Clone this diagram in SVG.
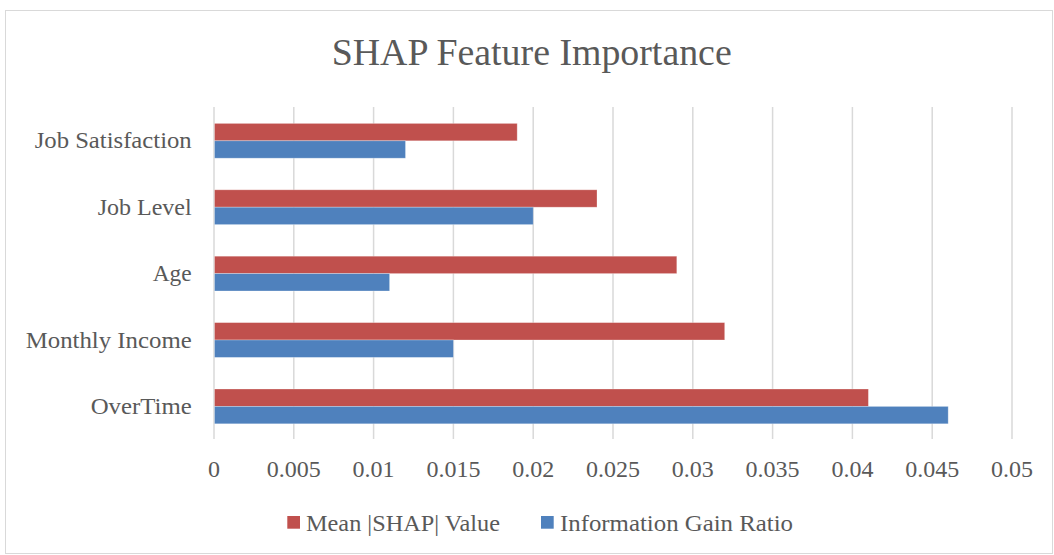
<svg xmlns="http://www.w3.org/2000/svg" width="1054" height="555" viewBox="0 0 1054 555">
<style>
  text { font-family: "Liberation Serif", "Times New Roman", serif; fill: #595959; }
  .title { font-size: 38px; }
  .cat { font-size: 23px; text-anchor: end; }
  .tick { font-size: 24px; text-anchor: middle; }
  .leg { font-size: 23.5px; }
  .grid line { stroke: #D9D9D9; stroke-width: 1.5; }
  .shap { fill: #C0504D; stroke: #ffffff; stroke-opacity: 0.35; stroke-width: 0.8; }
  .igr { fill: #4F81BD; stroke: #ffffff; stroke-opacity: 0.35; stroke-width: 0.8; }
</style>
<rect x="0" y="0" width="1054" height="555" fill="#ffffff"/>
<rect x="5.5" y="10.5" width="1047" height="543" fill="#ffffff" stroke="#D9D9D9" stroke-width="1"/>
<g id="title"><text class="title" x="531.7" y="65" text-anchor="middle" textLength="400" lengthAdjust="spacingAndGlyphs">SHAP Feature Importance</text></g>
<g id="gridlines" class="grid">
  <line x1="214" y1="107" x2="214" y2="439"/>
  <line x1="293.8" y1="107" x2="293.8" y2="439"/>
  <line x1="373.6" y1="107" x2="373.6" y2="439"/>
  <line x1="453.4" y1="107" x2="453.4" y2="439"/>
  <line x1="533.2" y1="107" x2="533.2" y2="439"/>
  <line x1="613" y1="107" x2="613" y2="439"/>
  <line x1="692.8" y1="107" x2="692.8" y2="439"/>
  <line x1="772.6" y1="107" x2="772.6" y2="439"/>
  <line x1="852.4" y1="107" x2="852.4" y2="439"/>
  <line x1="932.2" y1="107" x2="932.2" y2="439"/>
  <line x1="1012" y1="107" x2="1012" y2="439"/>
</g>
<g id="job-satisfaction">
  <rect class="shap" x="214.5" y="123.4" width="302.7" height="17.4"/>
  <rect class="igr" x="214.5" y="140.8" width="191" height="17.4"/>
  <text class="cat" x="191.7" y="148.3" textLength="157" lengthAdjust="spacingAndGlyphs">Job Satisfaction</text>
</g>
<g id="job-level">
  <rect class="shap" x="214.5" y="189.8" width="382.5" height="17.4"/>
  <rect class="igr" x="214.5" y="207.2" width="318.7" height="17.4"/>
  <text class="cat" x="191.7" y="214.7" textLength="94" lengthAdjust="spacingAndGlyphs">Job Level</text>
</g>
<g id="age">
  <rect class="shap" x="214.5" y="256.2" width="462.3" height="17.4"/>
  <rect class="igr" x="214.5" y="273.6" width="175.1" height="17.4"/>
  <text class="cat" x="191.7" y="281.1" textLength="39" lengthAdjust="spacingAndGlyphs">Age</text>
</g>
<g id="monthly-income">
  <rect class="shap" x="214.5" y="322.6" width="510.2" height="17.4"/>
  <rect class="igr" x="214.5" y="340" width="238.9" height="17.4"/>
  <text class="cat" x="191.7" y="347.5" textLength="166" lengthAdjust="spacingAndGlyphs">Monthly Income</text>
</g>
<g id="overtime">
  <rect class="shap" x="214.5" y="389" width="653.9" height="17.4"/>
  <rect class="igr" x="214.5" y="406.4" width="733.7" height="17.4"/>
  <text class="cat" x="191.7" y="413.9" textLength="101" lengthAdjust="spacingAndGlyphs">OverTime</text>
</g>
<g id="x-axis-labels">
  <text class="tick" x="214" y="477">0</text>
  <text class="tick" x="293.8" y="477">0.005</text>
  <text class="tick" x="373.6" y="477">0.01</text>
  <text class="tick" x="453.4" y="477">0.015</text>
  <text class="tick" x="533.2" y="477">0.02</text>
  <text class="tick" x="613" y="477">0.025</text>
  <text class="tick" x="692.8" y="477">0.03</text>
  <text class="tick" x="772.6" y="477">0.035</text>
  <text class="tick" x="852.4" y="477">0.04</text>
  <text class="tick" x="932.2" y="477">0.045</text>
  <text class="tick" x="1012" y="477">0.05</text>
</g>
<g id="legend">
  <rect x="287.3" y="516" width="12.7" height="12.7" fill="#C0504D"/>
  <text class="leg" x="306" y="530.7" textLength="194" lengthAdjust="spacingAndGlyphs">Mean |SHAP| Value</text>
  <rect x="541" y="516" width="12.7" height="12.7" fill="#4F81BD"/>
  <text class="leg" x="560" y="530.7" textLength="233" lengthAdjust="spacingAndGlyphs">Information Gain Ratio</text>
</g>
</svg>
